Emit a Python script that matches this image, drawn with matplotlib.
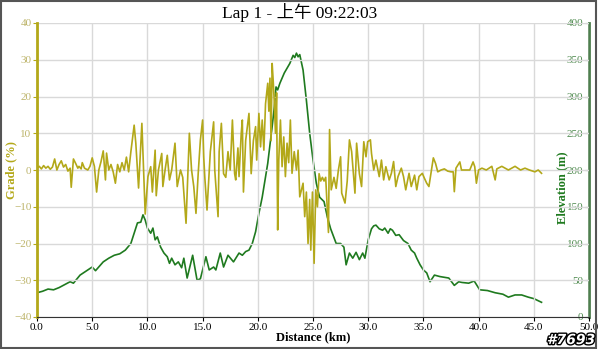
import matplotlib
matplotlib.use("Agg")
import matplotlib.pyplot as plt
import matplotlib.patheffects as pe
from matplotlib.patches import Rectangle
import numpy as np

# grade profile (distance km, grade %)
grade_km = [
    0.0, 0.2, 0.4, 0.6, 0.8, 1.0, 1.2, 1.4, 1.6, 1.8, 2.0, 2.2, 2.4, 2.6, 2.8,
    3.0, 3.1, 3.3, 3.5, 3.7, 3.8, 4.0, 4.1, 4.3, 4.6, 4.8, 5.0, 5.2, 5.4, 5.6,
    5.8, 6.0, 6.2, 6.3, 6.5, 6.7, 6.9, 7.1, 7.3, 7.5, 7.7, 7.9, 8.1, 8.3, 8.5,
    8.8, 8.95, 9.2, 9.35, 9.5, 9.65, 9.8, 10.05, 10.3, 10.45, 10.7, 10.8, 11.0,
    11.3, 11.4, 11.6, 11.8, 12.0, 12.2, 12.5, 12.7, 13.0, 13.2, 13.5, 13.8,
    14.0, 14.2, 14.4, 14.6, 14.8, 15.0, 15.1, 15.2, 15.4, 15.6, 15.7, 16.0,
    16.1, 16.4, 16.5, 16.7, 16.9, 17.1, 17.3, 17.5, 17.7, 17.9, 18.0, 18.2,
    18.3, 18.5, 18.6, 18.7, 18.9, 19.2, 19.4, 19.6, 19.8, 19.9, 20.1, 20.25,
    20.4, 20.55, 20.7, 20.9, 21.0, 21.1, 21.2, 21.3, 21.4, 21.5, 21.6, 21.7,
    21.8, 21.9, 22.05, 22.2, 22.35, 22.5, 22.65, 22.8, 22.95, 23.1, 23.3,
    23.5, 23.65, 23.8, 23.95, 24.1, 24.25, 24.4, 24.55, 24.7, 24.8, 24.95,
    25.1, 25.25, 25.4, 25.55, 25.7, 25.85, 26.0, 26.15, 26.4, 26.5, 26.65,
    26.9, 27.1, 27.3, 27.5, 27.6, 27.9, 28.1, 28.3, 28.5, 28.8, 28.95, 29.2,
    29.4, 29.6, 29.8, 29.95, 30.2, 30.3, 30.5, 30.7, 31.0, 31.2, 31.4, 31.6,
    31.9, 32.1, 32.3, 32.5, 32.7, 33.0, 33.2, 33.4, 33.7, 33.9, 34.2, 34.4,
    34.6, 34.9, 35.1, 35.3, 35.5, 35.7, 35.9, 36.1, 36.3, 36.6, 36.9, 37.2,
    37.5, 37.7, 37.8, 37.95, 38.3, 38.45, 38.8, 39.2, 39.5, 39.65, 39.8, 40.0,
    40.3, 40.7, 41.2, 41.5, 41.65, 42.1, 42.7, 43.3, 43.8, 44.2, 44.6, 45.1,
    45.4, 45.7,
]
grade_pct = [
    0.5, 1.0, 0.3, 1.2, 0.5, 1.0, 0.2, 0.8, 3.0, 0.0, 1.5, 2.5, 0.8, 1.5, -0.3,
    0.5, -4.7, 3.0, 1.8, 0.5, 1.0, 0.3, 2.0, 0.5, 0.0, 1.0, 3.3, 1.0, -6.0, 0.0,
    2.3, 5.2, -2.7, 4.6, 0.0, 1.5, -0.5, -3.6, 1.5, -0.5, 2.0, 0.0, 3.5, -0.5, 4.9,
    12.2, 7.3, -4.9, 4.0, 12.7, 0.0, -12.0, -1.8, 0.9, -6.0, 5.4, -7.0, 0.0,
    4.5, -4.5, 0.0, 4.0, -2.7, 0.0, 7.3, -4.5, 0.0, -2.0, -14.5, 10.0,
    0.0, -4.5, -11.8, -1.0, 8.2, 13.6, 3.6, -2.0, -10.9, 0.0, 5.0, 13.1,
    0.0, -12.7, 5.0, 12.7, -1.0, -2.0, 5.0, 0.0, 13.6, -1.0, -2.7, 6.0,
    -1.8, 10.0, 13.6, -6.0, 8.0, 15.4, -1.0, 8.0, 11.8, 2.7, 15.4, 6.3,
    13.6, 5.4, 18.0, 23.6, 16.0, 25.0, 8.0, 29.0, 24.0, 18.0, 10.0, 21.0,
    -16.3, 2.7, 13.6, 0.9, 9.0, -1.8, 7.3, 2.0, 13.6, -0.9, 5.0,
    0.0, 5.4, -7.3, -5.5, -3.6, -12.7, -6.0, -20.0, -8.0, -21.8, -6.0,
    -25.4, -5.4, -10.0, -1.0, -3.0, -2.0, -3.0, -2.0, -17.0, 11.0, -5.4,
    -2.0, -5.0, 0.0, 3.6, -6.3, -9.0, -3.0, 8.2, 5.0, -6.3, 7.3, -1.0,
    -4.5, 7.7, 3.6, 7.7, 8.2, 4.5, 0.0, 2.7, -1.8, 2.7, -2.7, 0.9,
    -2.7, -0.9, 2.3, -4.5, -1.8, 0.5, -1.8, -5.4, -0.9, -4.5, -1.4, -5.4,
    -1.8, -0.9, -2.3, -3.6, -4.5, -0.5, 3.3, 1.8, -0.5, 0.0, 0.3, -0.3,
    -0.5, -0.5, -5.9, 0.5, 2.2, 0.0, 0.0, 0.0, 2.2, 0.9, -3.6, 0.0,
    0.5, 0.0, 1.0, -2.7, 0.3, 1.0, 0.0, 1.0, 0.0, 0.5, 0.0, -0.5,
    0.0, -0.9,
]

# elevation profile (distance km, metres)
elev_km = [
    0.0, 0.5, 1.0, 1.5, 2.0, 2.5, 3.0, 3.3, 3.9, 4.5, 5.0, 5.3, 6.0, 6.5, 7.0,
    7.5, 8.0, 8.5, 9.1, 9.4, 9.6, 9.8, 10.0, 10.3, 10.5, 10.7, 10.9, 11.2,
    11.5, 11.8, 12.0, 12.2, 12.5, 12.8, 13.1, 13.3, 13.6, 14.1, 14.5, 14.8,
    15.3, 15.6, 16.0, 16.2, 16.6, 16.9, 17.3, 17.8, 18.3, 18.6, 18.9, 19.2,
    19.5, 19.8, 20.1, 20.4, 20.9, 21.3, 21.5, 21.65, 21.8, 22.0, 22.4, 22.9,
    23.2, 23.35, 23.5, 23.65, 23.8, 24.1, 24.4, 24.7, 25.0, 25.3, 25.6, 26.0,
    26.3, 26.6, 27.1, 27.5, 27.8, 28.0, 28.3, 28.6, 28.9, 29.2, 29.5, 29.7,
    30.0, 30.3, 30.5, 30.7, 31.0, 31.3, 31.5, 31.8, 32.0, 32.2, 32.5, 32.8,
    33.2, 33.6, 33.9, 34.2, 34.4, 34.7, 35.0, 35.3, 35.6, 36.0, 36.5, 37.3,
    37.8, 38.2, 38.5, 39.1, 39.6, 40.1, 40.8, 41.5, 42.2, 42.7, 43.3, 43.9,
    44.5, 45.0, 45.7,
]
elev_m = [
    33, 35, 38, 37, 40, 44, 48, 46, 57, 63, 68, 63, 75, 80, 84,
    86, 91, 100, 128, 129, 139, 132, 121, 114, 121, 105, 109, 95,
    87, 82, 73, 80, 71, 75, 67, 80, 53, 84, 50, 52,
    82, 64, 68, 64, 87, 68, 84, 75, 87, 84, 89, 91,
    100, 116, 141, 163, 209, 259, 286, 313, 309, 318, 332, 345,
    356, 353, 359, 354, 357, 336, 295, 250, 214, 182, 163, 157,
    136, 120, 100, 100, 95, 71, 87, 80, 88, 78, 87, 80,
    105, 120, 124, 125, 120, 118, 121, 114, 120, 118, 111, 112,
    104, 100, 91, 87, 80, 71, 64, 60, 48, 57, 55, 53,
    43, 48, 47, 46, 49, 37, 36, 33, 31, 27, 30, 30,
    27, 25, 20,
]

x_ticks = np.arange(0, 50.1, 5)
grade_ticks = np.arange(-40, 41, 10)
elev_ticks = np.arange(0, 401, 50)

olive = "#B3A819"
olive_txt = "#BDB46A"
green = "#1F7A1F"
green_txt = "#4E8A4E"
serif = ["Liberation Serif", "Noto Sans CJK TC"]

plt.rcParams["font.family"] = serif

fig = plt.figure(figsize=(6.0, 3.49), dpi=100)
ax = fig.add_axes([37 / 600, 1 - 317 / 349, 552 / 600, 294 / 349])
ax2 = ax.twinx()

ax.plot(grade_km, grade_pct, color=olive, lw=1.2, zorder=3)
ax2.plot(elev_km, elev_m, color=green, lw=1.2, zorder=3)
ax.set_zorder(ax2.get_zorder() + 1)
ax.patch.set_visible(False)

ax.set_xlim(0, 50)
ax.set_ylim(-40, 40)
ax2.set_ylim(0, 400)
ax.set_xticks(x_ticks)
ax.set_xticklabels([f"{v:.1f}" for v in x_ticks])
ax.set_yticks(grade_ticks)
ax2.set_yticks(elev_ticks)

ax2.grid(False)
ax.grid(True, color="#D9D9D9", lw=1.0, zorder=0)

ax.tick_params(axis="x", colors="black", labelsize=8, length=3, pad=1)
ax.tick_params(axis="y", colors=olive, labelcolor=olive_txt, labelsize=8,
               length=3, pad=1)
# elevation scale sits just inside the right edge of the plot
ax2.tick_params(axis="y", direction="in", colors=green_txt,
                labelcolor=green_txt, labelsize=8, length=3, pad=-4)
for lbl in ax2.get_yticklabels():
    lbl.set_horizontalalignment("right")

ax.spines["top"].set_visible(False)
ax2.spines["top"].set_visible(False)
ax.spines["left"].set_color(olive)
ax.spines["left"].set_linewidth(2)
ax.spines["right"].set_visible(False)
ax2.spines["left"].set_visible(False)
ax2.spines["right"].set_color("#4E7F4E")
ax2.spines["right"].set_linewidth(2)
ax.spines["bottom"].set_color("#333333")
ax2.spines["bottom"].set_visible(False)

ax.set_xlabel("Distance (km)", fontsize=9, fontweight="bold", labelpad=0)
ax.set_ylabel("Grade (%)", fontsize=9, fontweight="bold", color=olive)
ax.yaxis.set_label_coords(-0.036, 0.5)
ax2.set_ylabel("Elevation (m)", fontsize=9, fontweight="bold", color=green)
ax2.yaxis.set_label_coords(0.94, 0.44)
fig.text(0.5, 1 - 13 / 349, "Lap 1 - 上午 09:22:03", ha="center",
         va="center", fontsize=12.5)

fig.text(595 / 600, 1 - 340 / 349, "#7693", ha="right", va="center",
         fontsize=10, fontweight="bold", style="italic", color="white",
         family=["DejaVu Sans"],
         path_effects=[pe.withStroke(linewidth=2, foreground="black")])

fig.patches.append(Rectangle((0.001, 0.003), 0.992, 0.994,
                             transform=fig.transFigure, fill=False,
                             edgecolor="#555555", lw=1.5))

fig.savefig("out.png", dpi=100)
